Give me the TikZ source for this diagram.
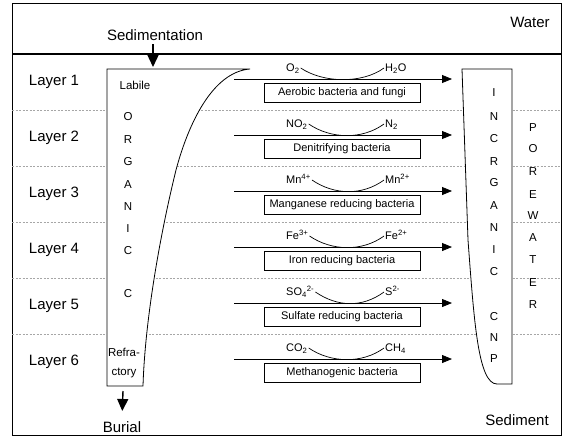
\documentclass[tikz,border=0pt]{standalone}
\usepackage{fontspec}
\setmainfont{Liberation Sans}
\usetikzlibrary{arrows.meta, positioning, calc}

\begin{document}
\begin{tikzpicture}[x=1pt, y=-1pt,
    zonelabel/.style={font=\fontsize{15}{18}\selectfont},
    letter/.style={font=\fontsize{11.5}{13}\selectfont, inner sep=0pt},
    chem/.style={font=\fontsize{11}{12}\selectfont, inner sep=1pt, text height=7pt, text depth=0pt, anchor=west},
    enzbox/.style={draw, fill=white, line width=0.8pt, minimum width=156pt, minimum height=19pt, inner sep=0pt, font=\fontsize{11}{12}\selectfont},
    flux/.style={line width=0.8pt, -{Triangle[length=10pt, width=8pt]}},
    bigarrow/.style={line width=1.4pt, -{Triangle[length=12pt, width=11pt]}},
    layersep/.style={gray!70, line width=0.5pt, dash pattern=on 2pt off 1.5pt},
    poolbox/.style={draw, fill=white, line width=0.8pt}
]
\useasboundingbox (0,0) rectangle (564,437);

% Frame, water line and layer boundaries
\draw[line width=0.8pt] (12,3) rectangle (561,435);
\draw[line width=1.6pt] (12,54) -- (561,54);
\foreach \y in {110,166,222,278,334}
    \draw[layersep] (12,\y) -- (561,\y);

% Organic and inorganic pools
\draw[poolbox] (107,69) -- (250,69) .. controls (212,72) and (188,125) .. (176,170)
    .. controls (160,235) and (145,320) .. (143,386) -- (107,386) -- cycle;
\draw[poolbox] (462,69) -- (468,240) .. controls (474,320) and (478,384) .. (497,384)
    -- (512,384) -- (512,69) -- cycle;

% Zone labels
\node[zonelabel] (water) at (530,22) {Water};
\node[zonelabel] (sediment) at (517,420) {Sediment};
\node[zonelabel] (sedtxt) at (155,35) {Sedimentation};
\node[zonelabel] (burial) at (122,427) {Burial};

% Input and output of organic matter
\coordinate (orgtop) at (153,67);
\coordinate (orgbot) at (123,391);
\draw[bigarrow] (sedtxt.south -| orgtop) -- (orgtop);
\draw[bigarrow, shorten >=7pt] (orgbot) -- (burial.north);

% Letters inside the pools
\node[letter] (labile) at (135,85) {Labile};
\node[letter] (refra) at (124,352) {Refra-};
\node[letter] (ctory) at (124,373) {ctory};
\foreach \c/\y [count=\k] in {O/117,R/140,G/162,A/185,N/207,I/229,C/251,C/294}
    \node[letter] (org\k) at (128,\y) {\c};
\foreach \c/\y [count=\k] in {I/93,N/117,C/139,R/162,G/183,A/206,N/228,I/250,C/272,C/317,N/338,P/359}
    \node[letter] (inorg\k) at (494,\y) {\c};
\foreach \c/\y [count=\k] in {P/128,O/149,R/172,E/195,W/216,A/238,T/260,E/283,R/305}
    \node[letter] (pore\k) at (533,\y) {\c};

% Layers with their redox reactions
\foreach \i/\ox/\red/\enz in {
    1/{O\textsubscript{2}}/{H\textsubscript{2}O}/{Aerobic bacteria and fungi},
    2/{NO\textsubscript{2}}/{N\textsubscript{2}}/{Denitrifying bacteria},
    3/{Mn\textsuperscript{4+}}/{Mn\textsuperscript{2+}}/{Manganese reducing bacteria},
    4/{Fe\textsuperscript{3+}}/{Fe\textsuperscript{2+}}/{Iron reducing bacteria},
    5/{SO\textsubscript{4}\textsuperscript{2-}}/{S\textsuperscript{2-}}/{Sulfate reducing bacteria},
    6/{CO\textsubscript{2}}/{CH\textsubscript{4}}/{Methanogenic bacteria}} {
    \pgfmathsetmacro{\ya}{79+56*(\i-1)}
    \node[zonelabel] (layer\i) at (54,\ya+3) {Layer \i};
    \coordinate (fs\i) at (234,\ya);
    \coordinate (fe\i) at (452,\ya);
    \draw[flux] (fs\i) -- (fe\i);
    \node[enzbox] (enz\i) at (342,\ya+13.5) {\enz};
    \node[chem] (ox\i) at (285,\ya-11) {\ox};
    \node[chem] (red\i) at (384,\ya-11) {\red};
    \draw[line width=0.7pt] (ox\i.east) .. controls +(22,15) and +(-22,16) .. (red\i.west);
}
\end{tikzpicture}
\end{document}
